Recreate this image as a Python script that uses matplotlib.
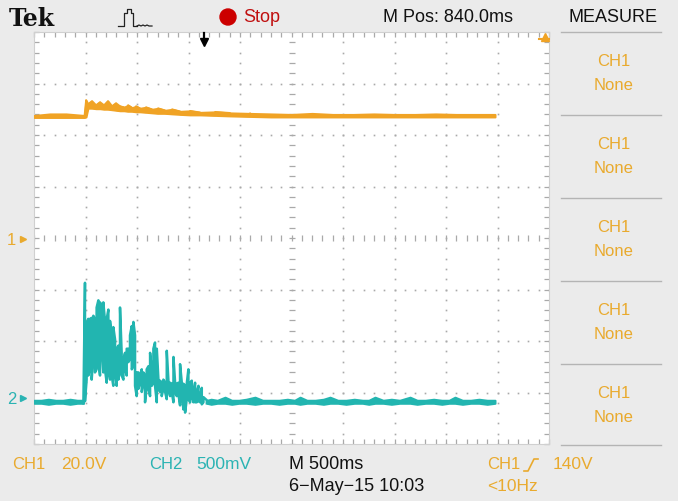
import numpy as np
import matplotlib.pyplot as plt

plt.rcParams['font.family'] = ['Liberation Sans', 'DejaVu Sans']

# ---------------- captured traces (time in ms from left edge, envelope in volts)
# CH1, 20 V/div
ch1_t = [0, 155, 311, 490, 505, 524, 563, 602, 641, 680, 718, 757, 796, 835,
         874, 913, 952, 990, 1029, 1087, 1146, 1204, 1272, 1340, 1418, 1515,
         1612, 1758, 1903, 2098, 2300, 2500, 2700, 2900, 3100, 3300, 3500,
         3700, 3900, 4100, 4300, 4476]
ch1_hi = [48.0, 48.6, 48.6, 48.0, 54.0, 52.4, 53.6, 52.0, 53.2, 52.0, 53.6, 51.6,
          52.8, 51.6, 51.2, 52.0, 51.0, 51.6, 50.8, 51.2, 50.4, 50.8, 50.0, 50.4,
          49.6, 49.8, 49.2, 49.4, 49.0, 48.8, 48.6, 48.4, 48.8, 48.4, 48.4, 48.6,
          48.4, 48.4, 48.6, 48.4, 48.4, 48.4]
ch1_lo = [47.2, 47.2, 47.2, 47.2, 47.4, 50.8, 50.8, 50.6, 50.6, 50.4, 50.4, 50.2,
          50.0, 49.8, 49.8, 49.6, 49.6, 49.4, 49.4, 49.2, 49.0, 48.8, 48.8, 48.6,
          48.4, 48.2, 48.2, 48.0, 47.8, 47.6, 47.4, 47.4, 47.4, 47.4, 47.4, 47.4,
          47.4, 47.4, 47.4, 47.4, 47.4, 47.4]

# CH2, 500 mV/div: quiet part before the burst
ch2_pre_t = [0, 70, 140, 210, 280, 350, 420, 480]
ch2_pre_hi = [-0.02, -0.02, -0.01, -0.02, -0.02, -0.01, -0.02, -0.02]
ch2_pre_lo = [-0.05, -0.05, -0.06, -0.05, -0.05, -0.06, -0.05, -0.05]

# CH2 burst
ch2_burst_t = [495, 511, 527, 544, 560, 576, 592, 608, 625, 641, 657, 673, 689,
               706, 722, 738, 754, 770, 787, 803, 819, 835, 851, 868, 884, 900,
               916, 932, 949, 965, 981, 997, 1013, 1030, 1046, 1062, 1078, 1094,
               1111, 1127, 1143, 1159, 1175, 1192, 1208, 1224, 1240, 1256, 1273,
               1289, 1305, 1321, 1337, 1354, 1370, 1386, 1402, 1418, 1435, 1451,
               1467, 1483, 1499, 1516, 1532, 1548, 1564, 1580, 1597, 1613, 1629,
               1645]
ch2_burst_hi = [1.12, 0.72, 0.77, 0.77, 0.78, 0.80, 0.77, 0.88, 0.95, 0.93, 0.90,
                0.93, 0.75, 0.77, 0.86, 0.75, 0.61, 0.69, 0.57, 0.48, 0.51, 0.88,
                0.44, 0.38, 0.44, 0.48, 0.48, 0.61, 0.70, 0.74, 0.61, 0.25, 0.25,
                0.22, 0.28, 0.25, 0.22, 0.28, 0.31, 0.44, 0.28, 0.48, 0.54, 0.48,
                0.18, 0.17, 0.15, 0.18, 0.15, 0.46, 0.17, 0.15, 0.14, 0.40, 0.15,
                0.14, 0.15, 0.33, 0.15, 0.14, 0.12, 0.14, 0.28, 0.15, 0.17, 0.06,
                0.15, 0.06, 0.12, 0.02, 0.10, 0.01]
ch2_burst_lo = [-0.03, 0.18, 0.22, 0.28, 0.18, 0.41, 0.25, 0.28, 0.35, 0.22, 0.48,
                0.25, 0.28, 0.15, 0.28, 0.18, 0.22, 0.12, 0.25, 0.12, 0.18, 0.28,
                0.22, 0.18, 0.28, 0.22, 0.35, 0.38, 0.28, 0.31, 0.12, 0.02, 0.09,
                0.15, 0.06, 0.14, -0.04, 0.12, 0.09, 0.02, 0.12, 0.15, 0.12, -0.04,
                0.09, 0.06, 0.02, 0.09, 0.06, -0.01, 0.09, 0.02, 0.06, -0.04, 0.06,
                0.02, 0.04, -0.07, 0.02, -0.11, -0.14, -0.01, -0.01, -0.04, 0.02,
                -0.04, -0.04, -0.04, -0.03, -0.04, -0.06, -0.04]

# CH2 tail after the burst
ch2_post_t = [1678, 1720, 1780, 1855, 1920, 1990, 2060, 2146, 2220, 2300, 2380,
              2460, 2530, 2583, 2650, 2730, 2810, 2874, 2950, 3030, 3110, 3190,
              3250, 3311, 3390, 3470, 3550, 3651, 3720, 3800, 3880, 3960, 4030,
              4087, 4160, 4240, 4320, 4400, 4476]
ch2_post_hi = [-0.02, -0.01, -0.02, 0.01, -0.02, -0.02, -0.01, 0.01, -0.02, -0.02,
               -0.02, -0.01, -0.02, 0.01, -0.02, -0.02, -0.01, 0.01, -0.02, -0.02,
               -0.01, -0.02, -0.02, 0.01, -0.02, -0.01, -0.02, 0.01, -0.02, -0.02,
               -0.01, -0.02, -0.02, 0.01, -0.02, -0.02, -0.01, -0.02, -0.02]
ch2_post_lo = [-0.05, -0.06, -0.05, -0.05, -0.06, -0.05, -0.05, -0.06, -0.05, -0.05,
               -0.06, -0.05, -0.05, -0.06, -0.05, -0.05, -0.06, -0.05, -0.05, -0.06,
               -0.05, -0.05, -0.06, -0.05, -0.05, -0.06, -0.05, -0.05, -0.06, -0.05,
               -0.05, -0.06, -0.05, -0.05, -0.06, -0.05, -0.05, -0.06, -0.05]

# scope settings
ch1_vdiv = 20.0
ch2_vdiv = 0.5
ch1_ground = 3.98   # divisions from bottom
ch2_ground = 0.89
t_div = 500.0       # ms/div

ORANGE = '#f0a325'
CYAN = '#22b5b0'
TXT_OR = '#e9aa2e'
TXT_CY = '#2ab3b3'
BG = '#ebebeb'


def zigzag(t, hi, lo):
    # vertical stroke per sample, alternating direction like a scope display
    xs, ys = [], []
    for i in range(len(t)):
        xs += [t[i], t[i]]
        ys += [lo[i], hi[i]] if i % 2 == 0 else [hi[i], lo[i]]
    return np.array(xs), np.array(ys)


def draw_band(ax, t, hi, lo, ground, vdiv, color):
    t = np.asarray(t, float)
    hi = ground + np.asarray(hi) / vdiv
    lo = ground + np.asarray(lo) / vdiv
    ax.fill_between(t, lo, hi, color=color, lw=1.4, ec=color, zorder=3)


fig = plt.figure(figsize=(6.78, 5.02), dpi=100, facecolor=BG)
W, H = 678, 502
x0, y0, x1, y1 = 34, 33, 549, 445
ax = fig.add_axes([x0 / W, 1 - y1 / H, (x1 - x0) / W, (y1 - y0) / H])
ax.set_facecolor('white')
ax.set_xlim(0, 10 * t_div)
ax.set_ylim(0, 8)

# graticule
grid_c = '#a9a9a9'
for gx in np.arange(1, 10) * t_div:
    if gx == 5 * t_div:
        continue
    ax.plot(np.full(41, gx), np.linspace(0, 8, 41), ls='none', marker='s',
            ms=1.2, color=grid_c, mec='none', zorder=1)
for gy in range(1, 8):
    if gy == 4:
        continue
    ax.plot(np.linspace(0, 10 * t_div, 51), np.full(51, gy), ls='none', marker='s',
            ms=1.2, color=grid_c, mec='none', zorder=1)
ax.plot(np.linspace(0, 10 * t_div, 51), np.full(51, 4), ls='none', marker='|',
        ms=4, mew=0.9, color=grid_c, zorder=1)
ax.plot(np.full(41, 5 * t_div), np.linspace(0, 8, 41), ls='none', marker='_',
        ms=4, mew=0.9, color=grid_c, zorder=1)

ax.set_xticks(np.arange(0, 11) * t_div)
ax.set_xticks(np.arange(0, 51) * t_div / 5, minor=True)
ax.set_yticks(np.arange(0, 9))
ax.set_yticks(np.arange(0, 41) / 5, minor=True)
ax.tick_params(which='both', direction='in', length=3.5, width=0.9, color=grid_c,
               top=True, right=True, labelbottom=False, labelleft=False)
for s in ax.spines.values():
    s.set_color('#d0d0d0')
    s.set_linewidth(0.8)

# CH1 trace: band plus thin strokes for the noisy stretch after the step
draw_band(ax, ch1_t, ch1_hi, ch1_lo, ch1_ground, ch1_vdiv, ORANGE)
tx, vy = zigzag(ch1_t[3:30], ch1_hi[3:30], ch1_lo[3:30])
ax.plot(tx, ch1_ground + vy / ch1_vdiv, color=ORANGE, lw=1.2, zorder=3)

# CH2 trace: quiet parts as a band, burst as vertical strokes
draw_band(ax, ch2_pre_t, ch2_pre_hi, ch2_pre_lo, ch2_ground, ch2_vdiv, CYAN)
draw_band(ax, ch2_post_t, ch2_post_hi, ch2_post_lo, ch2_ground, ch2_vdiv, CYAN)
tx, vy = zigzag(ch2_pre_t[-1:] + ch2_burst_t + ch2_post_t[:1],
                ch2_pre_hi[-1:] + ch2_burst_hi + ch2_post_hi[:1],
                ch2_pre_lo[-1:] + ch2_burst_lo + ch2_post_lo[:1])
ax.plot(tx, ch2_ground + vy / ch2_vdiv, color=CYAN, lw=1.8, zorder=3)

# trigger position arrow and trigger level marker
ax.plot([1650, 1650], [7.98, 7.83], color='black', lw=1.6, clip_on=False, zorder=5)
ax.plot([1650], [7.8], marker='v', ms=6, color='black', clip_on=False, zorder=5)
ax.plot([4960], [7.9], marker='^', ms=6, color=ORANGE, clip_on=False, zorder=5)
ax.plot([4900, 5000], [7.86, 7.86], color=ORANGE, lw=1.5, clip_on=False, zorder=5)

# ground markers
blend = ax.get_yaxis_transform()
ax.text(-0.043, ch1_ground, '1', transform=blend, color=TXT_OR, fontsize=12,
        ha='center', va='center')
ax.plot([-0.022], [ch1_ground], transform=blend, marker='>', ms=5, color=TXT_OR,
        clip_on=False)
ax.text(-0.043, ch2_ground, '2', transform=blend, color=TXT_CY, fontsize=12,
        ha='center', va='center')
ax.plot([-0.022], [ch2_ground], transform=blend, marker='>', ms=5, color=TXT_CY,
        clip_on=False)

# header, footer and measure panel drawn in pixel coordinates
ov = fig.add_axes([0, 0, 1, 1], zorder=-1)
ov.set_xlim(0, W)
ov.set_ylim(H, 0)
ov.axis('off')

ov.text(9, 19, 'Tek', family='DejaVu Serif', weight='bold', fontsize=17,
        va='center', ha='left', color='#111111')
ov.plot([118, 124, 124, 127, 127, 131, 131, 133, 133, 137],
        [27, 27, 14, 14, 10, 10, 14, 14, 27, 27], color='#222222', lw=0.9)
ov.plot([137, 139, 141, 143, 145, 147, 149, 152],
        [27, 26, 27, 26, 27, 26, 27, 27], color='#222222', lw=0.9)
ov.add_patch(plt.Circle((228, 18), 8, color='#cc0000'))
ov.text(243, 18, 'Stop', color='#c01010', fontsize=13, va='center', ha='left')
ov.text(383, 18, 'M Pos: 840.0ms', color='#111111', fontsize=13, va='center', ha='left')
ov.text(569, 18, 'MEASURE', color='#111111', fontsize=13, va='center', ha='left')

ov.text(12, 465, 'CH1', color=TXT_OR, fontsize=12, va='center', ha='left')
ov.text(61, 465, '20.0V', color=TXT_OR, fontsize=12.5, va='center', ha='left')
ov.text(149, 465, 'CH2', color=TXT_CY, fontsize=12, va='center', ha='left')
ov.text(196, 465, '500mV', color=TXT_CY, fontsize=12.5, va='center', ha='left')
ov.text(289, 465, 'M 500ms', color='#111111', fontsize=13, va='center', ha='left')
ov.text(289, 487, '6\u2212May\u221215 10:03', color='#111111', fontsize=13,
        va='center', ha='left')
ov.text(487, 465, 'CH1', color=TXT_OR, fontsize=12, va='center', ha='left')
ov.plot([524, 528, 534, 538], [472, 472, 460, 460], color=TXT_OR, lw=1.2)
ov.text(553, 465, '140V', color=TXT_OR, fontsize=12.5, va='center', ha='left')
ov.text(487, 487, '<10Hz', color=TXT_OR, fontsize=12.5, va='center', ha='left')

sep_y = [33, 116, 199, 282, 365, 446]
for sy in sep_y:
    ov.plot([561, 661], [sy, sy], color='#b4b4b4', lw=1.0)
for k in range(5):
    cy = sep_y[k] + 29
    ov.text(614, cy, 'CH1', color=TXT_OR, fontsize=12,
            family=['Liberation Sans Narrow', 'Liberation Sans'], va='center', ha='center')
    ov.text(614, cy + 24, 'None', color=TXT_OR, fontsize=12,
            family=['Liberation Sans Narrow', 'Liberation Sans'], va='center', ha='center')

fig.savefig('out.png', dpi=100, facecolor=BG)
